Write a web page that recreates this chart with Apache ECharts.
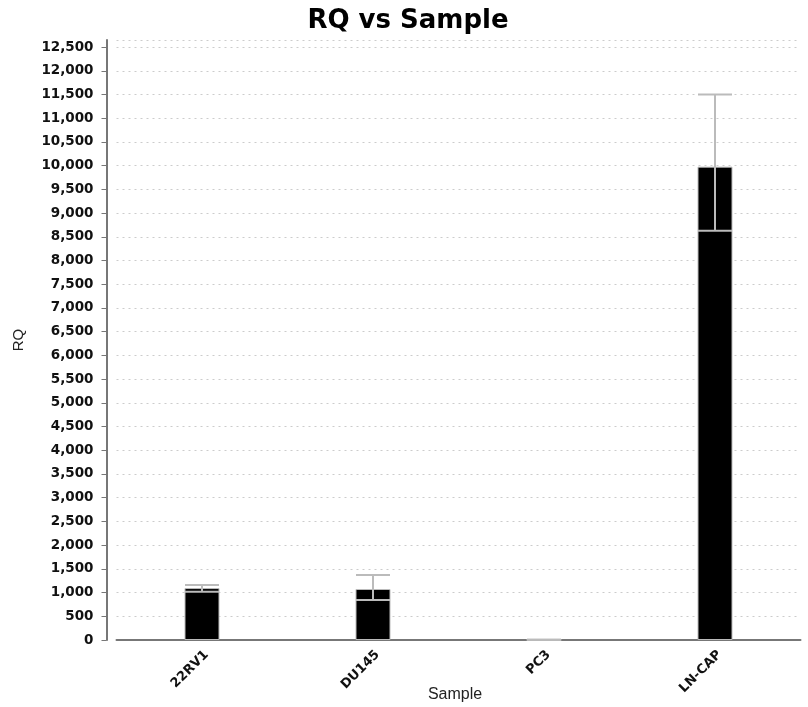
<!DOCTYPE html>
<html>
<head>
<meta charset="utf-8">
<script src="https://cdn.jsdelivr.net/npm/echarts@6/dist/echarts.min.js"></script>
<style>
	html, body { margin: 0; padding: 0; background: #fff; }
	#chart { width: 808px; height: 707px; }
</style>
</head>
<body>
<div id="chart"></div>
<script>
	// 样本与RQ数据
	var samples = ['22RV1', 'DU145', 'PC3', 'LN-CAP'];
	var rq = [1095, 1075, 5, 9980];
	var rqMin = [1015, 845, 5, 8630];
	var rqMax = [1160, 1370, 5, 11500];
	var yTicks = { min: 0, max: 12650, interval: 500 };

	var myChart = echarts.init(document.getElementById('chart'));

	var errData = samples.map(function(s, i) {
		return [i, rqMin[i], rqMax[i]];
	});

	var option = {
		animation: false,
		title: {
			text: 'RQ vs Sample',
			left: 403,
			top: 3,
			textAlign: 'center',
			textStyle: { fontFamily: 'DejaVu Sans', fontSize: 26, fontWeight: 'bold', color: '#000' }
		},
		grid: { left: 116.5, right: 7.5, top: 40, bottom: 67, outerBoundsMode: 'none' },
		graphic: [{
			// x轴名称
			type: 'text',
			style: { text: 'Sample', x: 455, y: 695, fontFamily: 'Liberation Sans', fontSize: 16, fill: '#222', align: 'center', verticalAlign: 'middle' }
		}],
		xAxis: {
			type: 'category',
			data: samples,
			axisLine: { lineStyle: { color: '#777', width: 2 } },
			axisTick: { show: false },
			axisLabel: {
				rotate: 45,
				margin: 8,
				verticalAlign: 'top',
				fontFamily: 'DejaVu Sans',
				fontSize: 13,
				fontWeight: 'bold',
				color: '#111'
			}
		},
		yAxis: {
			type: 'value',
			min: yTicks.min,
			max: yTicks.max,
			interval: yTicks.interval,
			offset: 10,
			name: 'RQ',
			nameLocation: 'middle',
			nameGap: 80,
			nameTextStyle: { fontFamily: 'Liberation Sans', fontSize: 15, color: '#222' },
			axisLine: { show: true, lineStyle: { color: '#777', width: 2 } },
			axisTick: { show: true, length: 5, lineStyle: { color: '#777' } },
			axisLabel: {
				showMaxLabel: false,
				margin: 13,
				fontFamily: 'DejaVu Sans',
				fontSize: 13.5,
				fontWeight: 'bold',
				color: '#111',
				formatter: function(v) { return v.toLocaleString('en-US'); }
			},
			splitLine: { lineStyle: { color: '#ccc', type: [2, 4] } }
		},
		series: [{
			type: 'bar',
			data: rq,
			barWidth: 35,
			itemStyle: { color: '#000', borderColor: '#bbb', borderWidth: 1 }
		}, {
			type: 'custom',
			data: errData,
			z: 10,
			renderItem: function(params, api) {
				var x = api.value(0);
				var lo = api.coord([x, api.value(1)]);
				var hi = api.coord([x, api.value(2)]);
				var half = 17;
				var style = { stroke: '#bbb', lineWidth: 2 };
				return {
					type: 'group',
					children: [
						{ type: 'line', shape: { x1: hi[0], y1: hi[1], x2: lo[0], y2: lo[1] }, style: style },
						{ type: 'line', shape: { x1: hi[0] - half, y1: hi[1], x2: hi[0] + half, y2: hi[1] }, style: style },
						{ type: 'line', shape: { x1: lo[0] - half, y1: lo[1], x2: lo[0] + half, y2: lo[1] }, style: style }
					]
				};
			}
		}]
	};

	myChart.setOption(option);
</script>
</body>
</html>
